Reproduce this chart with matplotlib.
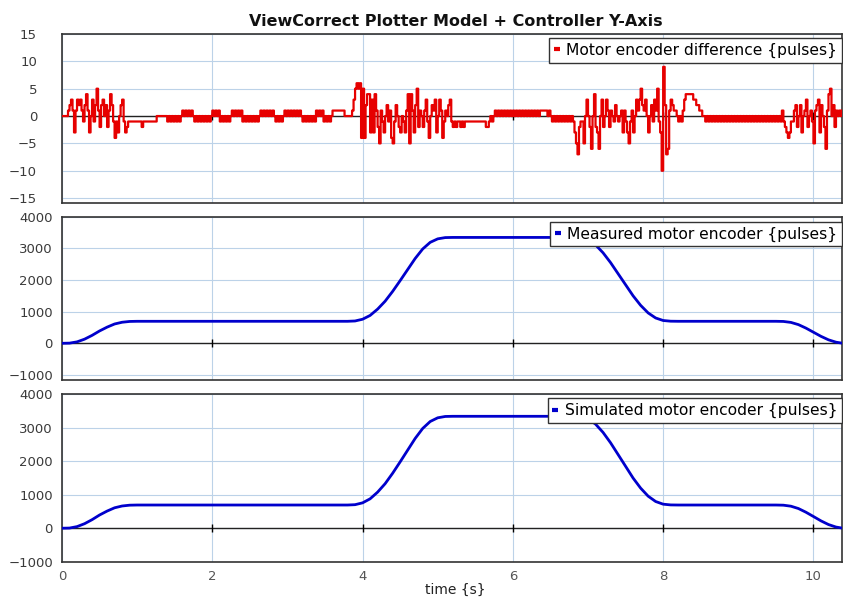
import numpy as np
import matplotlib
matplotlib.use("Agg")
import matplotlib.pyplot as plt
from matplotlib.lines import Line2D

# ---------------------------------------------------------------- data
sample_period_s = 0.02

# Measured minus simulated encoder count, one sample every 20 ms (0.00 .. 10.38 s)
encoder_difference = [
    0, 0, 0, 0, 1, 2, 3, 1, -3, 1, 3, 2, 3, 1, -1, 2, 4, 1, -3, 0, 3, -1, 2, 5, 1,
    -2, 2, 3, 0, 2, -2, 1, 4, 2, -1, -4, -1, -3, 0, 2, 3, -1, -3, -2, -1, -1, -1, -1, -1, -1,
    -1, -1, -1, -2, -1, -1, -1, -1, -1, -1, -1, -1, -1, 0, 0, 0, 0, 0, 0, 0, -1, 0, -1, 0, -1,
    0, -1, 0, -1, 0, 1, 0, 1, 0, 1, 0, 1, 0, -1, 0, -1, 0, -1, 0, -1, 0, -1, 0, -1, 0,
    1, 0, 1, 0, 1, -1, 0, -1, 0, -1, 0, -1, 0, 1, 0, 1, 0, 1, 0, 1, -1, 0, -1, 0, -1,
    0, -1, 0, -1, 0, -1, 0, 1, 0, 1, 0, 1, 0, 1, 0, 1, 0, -1, 0, -1, 0, -1, 0, 1, 0,
    1, 0, 1, 0, 1, 0, 1, 0, 1, 0, -1, 0, -1, 0, -1, 0, -1, 0, -1, 1, 0, 1, 0, 1, -1,
    0, -1, 0, -1, 0, 1, 1, 1, 1, 1, 1, 1, 1, 0, 0, 0, 0, 0, 1, 3, 5, 6, 5, 6, -4,
    5, -4, 2, 4, 4, -3, 3, -3, 4, 1, -2, -5, 1, -1, -3, 0, 2, -1, 1, -4, -5, -1, 2, 0, -2,
    -3, 0, -1, -3, 1, 4, -5, 4, 1, -3, 2, 5, -2, 1, 0, -2, 1, 3, -1, -4, 0, 2, 1, 3, -3,
    0, 3, 1, -4, -1, 1, 0, 2, 3, -1, -2, -1, -2, -1, -1, -2, -1, -2, -1, -1, -1, -1, -1, -1, -1,
    -1, -1, -1, -1, -1, -1, -1, -2, -2, -1, 0, -1, 0, 1, 0, 1, 0, 1, 0, 1, 0, 1, 0, 1, 0,
    1, 0, 1, 0, 1, 0, 1, 0, 1, 0, 1, 0, 1, 0, 1, 0, 1, 0, 1, 1, 1, 1, 1, 0, 1,
    0, -1, 0, -1, 0, -1, 0, -1, 0, -1, 0, -1, 0, -1, 0, -1, -3, -5, -7, -2, -1, -1, -5, 0, 3,
    0, -2, -6, 0, 4, -2, -3, -6, 0, 3, -2, 0, 3, 1, -2, 1, 0, -1, 2, 0, -1, 0, 1, -3, 1,
    -1, -3, -5, -1, 1, -3, 0, 3, 1, 3, 5, 2, 1, 3, 0, -3, 0, 2, -1, 3, 1, 5, -1, -3, -10,
    9, 2, -7, -6, 1, 3, 2, 1, 1, 0, -1, 0, -1, 1, 3, 4, 4, 4, 4, 4, 3, 3, 2, 2, 1,
    1, 0, 0, -1, 0, -1, 0, -1, 0, -1, 0, -1, 0, -1, 0, -1, 0, -1, 0, -1, 0, -1, 0, -1, 0,
    -1, 0, -1, 0, -1, 0, -1, 0, -1, 0, -1, 0, -1, 0, -1, 0, -1, 0, -1, 0, -1, 0, -1, 0, -1,
    0, -1, 0, -1, 1, -1, -2, -3, -4, -3, -1, -1, 1, 2, -2, 0, 2, -3, 0, 1, 3, -2, 0, 1, -1,
    -5, 1, 2, 3, -3, 2, 0, -2, -6, 1, 4, 5, 0, 2, -2, 1, 0, 1, 0, 1,
]

# Encoder position profile (pulses) at the listed instants
profile_time_s = [
    0.0, 0.1, 0.2, 0.3, 0.4, 0.5, 0.6, 0.7, 0.8, 0.9, 1.0,
    3.8, 3.9, 4.0, 4.1, 4.2, 4.3, 4.4, 4.5, 4.6, 4.7, 4.8, 4.9, 5.0, 5.1, 5.2,
    6.8, 6.9, 7.0, 7.1, 7.2, 7.3, 7.4, 7.5, 7.6, 7.7, 7.8, 7.9, 8.0, 8.1, 8.2,
    9.5, 9.6, 9.7, 9.8, 9.9, 10.0, 10.1, 10.2, 10.3, 10.38,
]
measured_pulses = [
    0, 5, 45, 130, 250, 390, 510, 610, 665, 690, 695,
    695, 705, 760, 880, 1080, 1330, 1640, 1980, 2330, 2680, 2980, 3190, 3300, 3340, 3345,
    3345, 3330, 3270, 3110, 2860, 2550, 2200, 1850, 1500, 1200, 960, 800, 720, 698, 695,
    695, 690, 660, 590, 480, 350, 220, 110, 35, 5,
]
simulated_pulses = [
    0, 5, 48, 135, 255, 395, 512, 610, 664, 688, 693,
    693, 703, 758, 878, 1078, 1330, 1642, 1982, 2332, 2682, 2980, 3188, 3298, 3338, 3343,
    3343, 3328, 3268, 3110, 2862, 2552, 2202, 1850, 1498, 1198, 958, 798, 718, 696, 693,
    693, 688, 658, 588, 478, 350, 220, 110, 35, 5,
]

time_ticks = [0, 2, 4, 6, 8, 10]
difference_ticks = [-15, -10, -5, 0, 5, 10, 15]
position_ticks = [-1000, 0, 1000, 2000, 3000, 4000]

title_text = "ViewCorrect Plotter Model + Controller Y-Axis"
difference_label = "Motor encoder difference {pulses}"
measured_label = "Measured motor encoder {pulses}"
simulated_label = "Simulated motor encoder {pulses}"
time_label = "time {s}"

# ---------------------------------------------------------------- style
RED = "#e60000"
BLUE = "#0000cc"
GRID = "#bcd2e8"
FRAME = "#333333"
TICKTXT = "#3a3a3a"

plt.rcParams["font.family"] = ["DejaVu Sans"]

W, H = 843, 598
fig = plt.figure(figsize=(W / 100, H / 100), dpi=100)
fig.patch.set_facecolor("white")


def panel(left, top, right, bottom):
    return fig.add_axes([left / W, 1 - bottom / H, (right - left) / W, (bottom - top) / H])


ax_diff = panel(62, 34, 842, 203)
ax_meas = panel(62, 216.7, 842, 380)
ax_sim = panel(62, 394.3, 842, 561.7)

t = np.arange(len(encoder_difference)) * sample_period_s


def style(ax, yticks, ylim, ypad, show_x):
    ax.set_xlim(0, 10.38)
    ax.set_ylim(*ylim)
    ax.set_xticks(time_ticks)
    ax.set_yticks(yticks)
    ax.grid(True, color=GRID, lw=0.8, zorder=0)
    ax.set_axisbelow(True)
    ax.tick_params(axis="both", length=0, labelsize=9.5, labelcolor=TICKTXT)
    ax.tick_params(axis="y", pad=ypad)
    ax.tick_params(axis="x", pad=6, labelbottom=show_x, labelcolor="#555555")
    for s in ax.spines.values():
        s.set_color(FRAME)
        s.set_linewidth(1.2)
    ax.axhline(0, color="#222222", lw=1.0, zorder=2)
    ax.plot(time_ticks[1:], [0] * (len(time_ticks) - 1), ls="none", marker="|",
            ms=6, mew=1.0, color="black", zorder=2, clip_on=False)


def add_legend(ax, label, color, top_offset_px, height_px):
    handle = Line2D([], [], color=color, lw=3, solid_capstyle="butt")
    leg = ax.legend([handle], [label], loc="upper right",
                    bbox_to_anchor=(1.0, 1.0 - top_offset_px / height_px),
                    borderaxespad=0, fontsize=11.2, handlelength=0.4,
                    handletextpad=0.4, borderpad=0.3, fancybox=False,
                    framealpha=1, edgecolor=FRAME)
    leg.get_frame().set_linewidth(1.0)
    leg.set_zorder(5)


style(ax_diff, difference_ticks, (-15.9, 15), 18, False)
ax_diff.plot(t, encoder_difference, color=RED, lw=1.6, zorder=3,
             drawstyle="steps-post")
add_legend(ax_diff, difference_label, RED, 4, 169)

style(ax_meas, position_ticks, (-1160, 4000), 6.5, False)
ax_meas.plot(profile_time_s, measured_pulses, color=BLUE, lw=2.0, zorder=3)
add_legend(ax_meas, measured_label, BLUE, 5, 163.3)

style(ax_sim, position_ticks, (-1000, 4000), 6.5, True)
ax_sim.plot(profile_time_s, simulated_pulses, color=BLUE, lw=2.0, zorder=3)
add_legend(ax_sim, simulated_label, BLUE, 4, 167.4)

fig.text(456 / W, 1 - 21 / H, title_text, ha="center", va="center",
         fontsize=11.5, fontweight="bold", color="#111111")
fig.text(455 / W, 1 - 590 / H, time_label, ha="center", va="center",
         fontsize=10, color="#222222")

fig.savefig("out.png", dpi=100, facecolor="white")
